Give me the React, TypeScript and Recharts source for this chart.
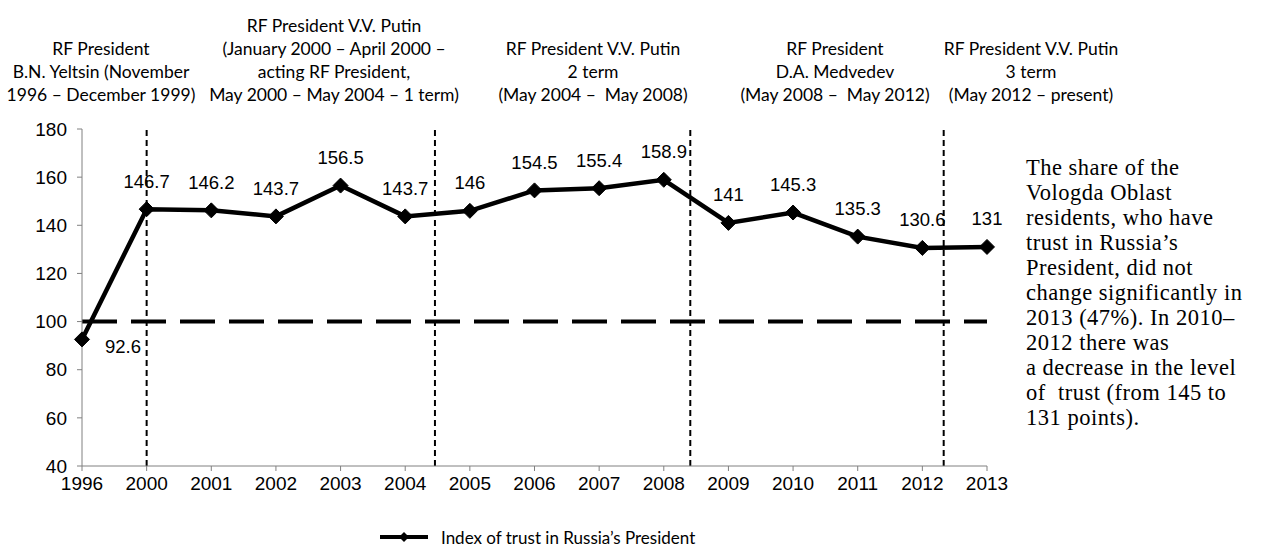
import React from 'react';
import { LineChart, Line, XAxis, YAxis, ReferenceLine } from 'recharts';

const years = ['1996', '2000', '2001', '2002', '2003', '2004', '2005', '2006', '2007', '2008', '2009', '2010', '2011', '2012', '2013'];
const trustIndex = [92.6, 146.7, 146.2, 143.7, 156.5, 143.7, 146, 154.5, 155.4, 158.9, 141, 145.3, 135.3, 130.6, 131];
const yTicks = [40, 60, 80, 100, 120, 140, 160, 180];
// where each presidential term begins, in category steps from 1996
const termStarts = [1, 5.46, 9.41, 13.33];
const baseline = 100;

const termNotes = [
  ['RF President', 'B.N. Yeltsin (November', '1996 – December 1999)'],
  ['RF President V.V. Putin', '(January 2000 – April 2000 –', 'acting RF President,', 'May 2000 – May 2004 – 1 term)'],
  ['RF President V.V. Putin', '2 term', '(May 2004 –  May 2008)'],
  ['RF President', 'D.A. Medvedev', '(May 2008 –  May 2012)'],
  ['RF President V.V. Putin', '3 term', '(May 2012 – present)'],
];
const noteCenters = [101, 334, 593, 835, 1031];

const comment = [
  'The share of the',
  'Vologda Oblast',
  'residents, who have',
  'trust in Russia’s',
  'President, did not',
  'change significantly in',
  '2013 (47%). In 2010–',
  '2012 there was',
  'a decrease in the level',
  'of  trust (from 145 to',
  '131 points).',
];

const seriesName = 'Index of trust in Russia’s President';

const data = trustIndex.map((v, i) => ({ idx: i, year: years[i], value: v }));

const AXIS_FONT = '"Liberation Sans", Arial, sans-serif';
const NOTE_FONT = 'Lato, "Open Sans", sans-serif';

const Diamond = (props: any) => {
  const { cx, cy } = props;
  if (cx == null || cy == null) return null;
  const r = 7.5;
  return (
    <polygon
      points={`${cx},${cy - r} ${cx + r},${cy} ${cx},${cy + r} ${cx - r},${cy}`}
      fill="#000"
      stroke="#000"
    />
  );
};

const ValueLabel = (props: any) => {
  const { x, y, value, index } = props;
  const below = index === 0;
  return (
    <text
      x={below ? x + 41 : x}
      y={below ? y + 7 : y - 28}
      textAnchor="middle"
      dominantBaseline="central"
      fontSize={18.5}
      fontFamily={AXIS_FONT}
      fill="#000"
    >
      {value}
    </text>
  );
};

export default function App() {
  return (
    <div style={{ position: 'absolute', left: 0, top: 0, width: 1265, height: 559, background: '#fff' }}>
      <LineChart
        width={1265}
        height={559}
        data={data}
        margin={{ top: 129, right: 278, left: 22, bottom: 63 }}
      >
        <XAxis
          dataKey="idx"
          type="number"
          domain={[0, years.length - 1]}
          ticks={years.map((_, i) => i)}
          tickFormatter={(i: number) => years[i]}
          interval={0}
          height={30}
          stroke="#808080"
          tickSize={5}
          tickMargin={6}
          tick={{ fill: '#000', fontSize: 19, fontFamily: AXIS_FONT }}
        />
        <YAxis
          domain={[40, 180]}
          ticks={yTicks}
          width={60}
          stroke="#808080"
          tickSize={5}
          tickMargin={10}
          tick={{ fill: '#000', fontSize: 19, fontFamily: AXIS_FONT }}
        />
        <ReferenceLine y={baseline} stroke="#000" strokeWidth={4} strokeDasharray="35 14" />
        {termStarts.map((t) => (
          <ReferenceLine key={t} x={t} stroke="#000" strokeWidth={2} strokeDasharray="6 4" />
        ))}
        <Line
          dataKey="value"
          name={seriesName}
          stroke="#000"
          strokeWidth={4.5}
          dot={(p: any) => <Diamond key={p.index} {...p} />}
          activeDot={false}
          label={(p: any) => <ValueLabel key={p.index} {...p} />}
          isAnimationActive={false}
        />
      </LineChart>

      {termNotes.map((lines, i) => (
        <div
          key={i}
          style={{
            position: 'absolute',
            left: noteCenters[i] - 150,
            width: 300,
            top: 36.5 - (lines.length - 3) * 23,
            textAlign: 'center',
            fontFamily: NOTE_FONT,
            fontSize: 17.5,
            lineHeight: '23px',
            color: '#000',
            whiteSpace: 'pre',
          }}
        >
          {lines.map((l, j) => (
            <div key={j}>{l}</div>
          ))}
        </div>
      ))}

      <div
        style={{
          position: 'absolute',
          left: 1026,
          top: 155,
          fontFamily: '"Liberation Serif", "Times New Roman", serif',
          fontSize: 22.5,
          lineHeight: '25px',
          letterSpacing: 0.5,
          color: '#000',
          whiteSpace: 'pre',
        }}
      >
        {comment.map((l, j) => (
          <div key={j}>{l}</div>
        ))}
      </div>

      <div
        style={{
          position: 'absolute',
          left: 380,
          top: 526,
          display: 'flex',
          alignItems: 'center',
          height: 22,
        }}
      >
        <svg width={48} height={14}>
          <line x1={0} y1={7} x2={48} y2={7} stroke="#000" strokeWidth={4} />
          <polygon points="24,2 29,7 24,12 19,7" fill="#000" />
        </svg>
        <span style={{ marginLeft: 13, fontFamily: NOTE_FONT, fontSize: 17, color: '#000' }}>{seriesName}</span>
      </div>
    </div>
  );
}
